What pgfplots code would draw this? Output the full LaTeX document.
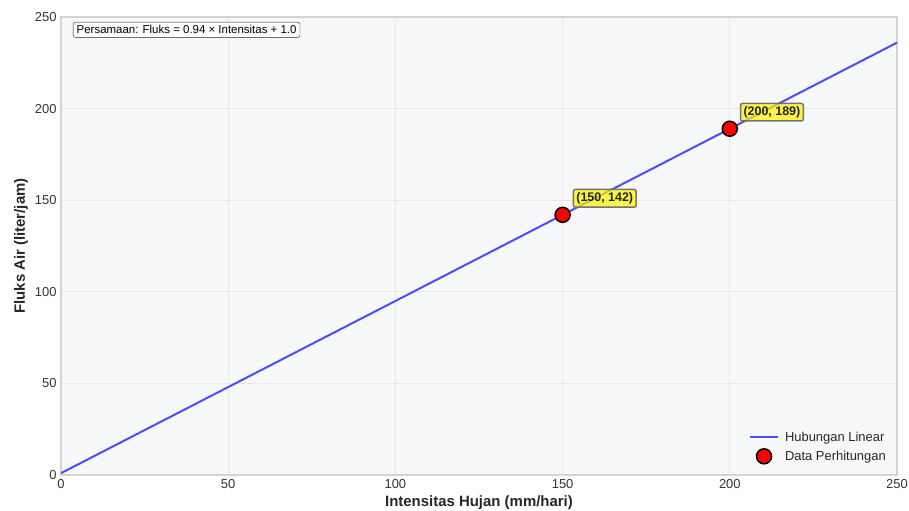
\documentclass[border=0pt]{standalone}
\usepackage{fontspec}
\setmainfont{Liberation Sans}
\usepackage{pgfplots}
\pgfplotsset{compat=1.18}
\definecolor{bgc}{HTML}{F7F8FA}
\definecolor{gridc}{HTML}{E8E8E8}
\definecolor{spine}{HTML}{D4D4D4}
\definecolor{lineb}{HTML}{4D4DFF}
\pgfplotsset{
  longline legend/.style={legend image code/.code={\path[draw=none] (0bp,0bp) -- (33bp,0bp);
    \draw[##1] (0bp,0bp) -- (28bp,0bp);}},
  midmark legend/.style={legend image code/.code={\path[draw=none] (0bp,0bp) -- (33bp,0bp);
    \draw[##1] plot coordinates {(14bp,0bp)};}},
}
\begin{document}
\begin{tikzpicture}
\begin{axis}[
  at={(0,0)}, anchor=south west,
  scale only axis, width=836bp, height=458bp,
  xmin=0, xmax=250, ymin=0, ymax=250,
  xtick={0,50,...,250}, ytick={0,50,...,250},
  axis background/.style={fill=bgc},
  axis line style={spine, line width=1.2bp},
  grid=major, major grid style={gridc, line width=0.8bp},
  major tick length=0pt,
  tick label style={font=\fontsize{13}{15}\selectfont, text=black!80},
  /pgf/number format/assume math mode=true,
  xticklabel style={yshift=-1bp},
  yticklabel style={xshift=-1bp},
  label style={font=\fontsize{15}{18}\selectfont\bfseries, text=black!85},
  xlabel={Intensitas Hujan (mm/hari)},
  ylabel={Fluks Air (liter/jam)},
  legend style={at={(rel axis cs:1,0)}, anchor=south east, xshift=-6bp, yshift=9bp,
    draw=none, fill=bgc, font=\fontsize{13}{16}\selectfont, text=black!85,
    row sep=4bp},
  legend cell align=left,
]
% garis hubungan linear: Fluks = 0.94 x Intensitas + 1.0
\addplot[lineb, line width=2bp, longline legend]
  coordinates {(0,1.0) (250,236.0)};
\addlegendentry{Hubungan Linear}
% titik data perhitungan
\addplot[only marks, mark=*, mark size=7.5bp,
  mark options={fill=red, draw=black, line width=1.5bp},
  midmark legend,
  point meta=explicit symbolic, nodes near coords,
  nodes near coords style={anchor=south west, xshift=10bp, yshift=7bp,
    fill=yellow, fill opacity=0.7, text opacity=1, draw=black!55,
    rounded corners=2bp, inner sep=3bp,
    font=\fontsize{12.5}{14}\selectfont\bfseries, text=black!85}]
  coordinates {(150,142) [(150, 142)] (200,189) [(200, 189)]};
\addlegendentry{Data Perhitungan}
\node[anchor=north west, draw=black!85, fill=white, fill opacity=0.8, text opacity=1,
  rounded corners=2.5bp, inner sep=3.5bp, font=\fontsize{11.5}{13}\selectfont,
  xshift=12bp, yshift=-5bp] at (rel axis cs:0,1)
  {Persamaan: Fluks = 0.94 × Intensitas + 1.0};
\end{axis}
\pgfresetboundingbox
\path[use as bounding box] (-61bp,-36bp) rectangle (848bp,475bp);
\end{tikzpicture}
\end{document}
